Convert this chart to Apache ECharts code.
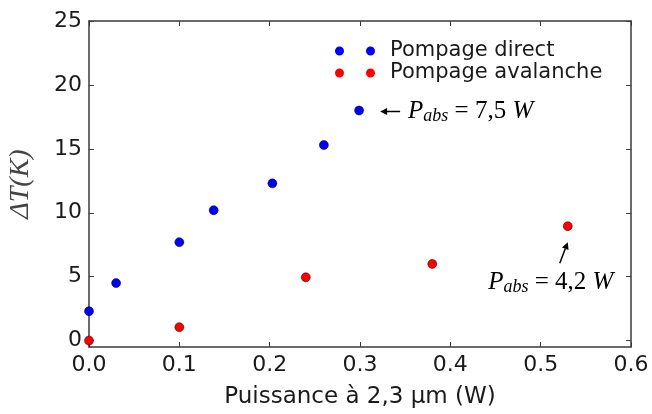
<!DOCTYPE html>
<html><head><meta charset="utf-8">
<script src="https://cdn.jsdelivr.net/npm/echarts@6/dist/echarts.min.js"></script>
<style>html,body{margin:0;padding:0;background:#fff}#c{width:652px;height:414px}</style>
</head><body><div id="c"></div>
<script>
// ---- data ----
const xTicks = [0, 0.1, 0.2, 0.3, 0.4, 0.5, 0.6];
const yTicks = [0, 5, 10, 15, 20, 25];
const seriesNames = ['Pompage direct', 'Pompage avalanche'];
const directX = [0, 0.03, 0.1, 0.138, 0.203, 0.26, 0.299];
const directY = [2.3, 4.5, 7.7, 10.2, 12.3, 15.3, 18.0];
const avalX = [0, 0.1, 0.24, 0.38, 0.53];
const avalY = [0.0, 1.05, 4.95, 6.0, 8.95];
const annotValues = ['7,5', '4,2'];
const xTitle = 'Puissance à 2,3 µm (W)';
const yTitle = 'ΔT(K)';

const frame = '#3a3a3a';
const txt = '#1a1a1a';
const pair = (xs, ys) => xs.map((x, i) => [x, ys[i]]);

const chart = echarts.init(document.getElementById('c'), null, {renderer: 'canvas'});
const axisLine = {show: true, onZero: false, lineStyle: {color: frame, width: 1.5}};
const tick = {show: true, inside: true, length: 5, lineStyle: {color: frame, width: 1}};

const option = {
  backgroundColor: '#fff',
  animation: false,
  grid: {left: 89, right: 21, top: 21, bottom: 67, containLabel: false, outerBoundsMode: 'none'},
  legend: {
    data: seriesNames, orient: 'vertical', left: 330, top: 35,
    itemWidth: 40, itemHeight: 9, itemGap: 0, symbolKeepAspect: false,
    icon: 'path://M0,4.5A4.5,4.5 0 1,1 9,4.5A4.5,4.5 0 1,1 0,4.5Z M31,4.5A4.5,4.5 0 1,1 40,4.5A4.5,4.5 0 1,1 31,4.5Z',
    itemStyle: {borderWidth: 0},
    textStyle: {fontSize: 21, fontFamily: 'DejaVu Sans', color: txt, padding: [0, 0, 0, 10], lineHeight: 22}
  },
  xAxis: [{
    type: 'value', min: 0, max: 0.6, interval: 0.1, position: 'bottom',
    axisLine: axisLine, axisTick: tick, splitLine: {show: false},
    axisLabel: {customValues: xTicks, color: txt, fontSize: 22, fontFamily: 'DejaVu Sans', margin: 7, formatter: v => v.toFixed(1)},
    name: xTitle, nameLocation: 'middle', nameGap: 39,
    nameTextStyle: {fontSize: 23, fontFamily: 'DejaVu Sans', color: txt}
  }, {
    type: 'value', min: 0, max: 0.6, interval: 0.1, position: 'top',
    axisLine: axisLine, axisTick: tick, splitLine: {show: false}, axisLabel: {show: false}
  }],
  yAxis: [{
    type: 'value', min: -0.5, max: 25, position: 'left',
    axisLine: axisLine, axisTick: Object.assign({customValues: yTicks}, tick), splitLine: {show: false},
    axisLabel: {customValues: yTicks, color: txt, fontSize: 22, fontFamily: 'DejaVu Sans', margin: 7},
    name: yTitle, nameLocation: 'middle', nameGap: 54, nameRotate: 90,
    nameTextStyle: {fontSize: 28, fontFamily: 'Liberation Serif', fontStyle: 'italic', color: '#444'}
  }, {
    type: 'value', min: -0.5, max: 25, position: 'right',
    axisLine: axisLine, axisTick: Object.assign({customValues: yTicks}, tick), splitLine: {show: false},
    axisLabel: {show: false}
  }],
  series: [{
    name: seriesNames[0], type: 'scatter', xAxisIndex: 0, yAxisIndex: 0,
    data: pair(directX, directY), symbol: 'circle', symbolSize: 9, clip: false,
    itemStyle: {color: '#0000ff', borderColor: '#000', borderWidth: 0.5, opacity: 1}
  }, {
    name: seriesNames[1], type: 'scatter', xAxisIndex: 0, yAxisIndex: 0,
    data: pair(avalX, avalY), symbol: 'circle', symbolSize: 9, clip: false,
    itemStyle: {color: '#ff0000', borderColor: '#000', borderWidth: 0.5, opacity: 1}
  }]
};
chart.setOption(option);

function mathText(val) {
  return {
    text: '{i|P}{s|abs}{n| = ' + val + ' }{i|W}',
    rich: {
      i: {fontFamily: 'Liberation Serif', fontStyle: 'italic', fontSize: 25, lineHeight: 28, color: '#111'},
      s: {fontFamily: 'Liberation Serif', fontStyle: 'italic', fontSize: 18, lineHeight: 16, verticalAlign: 'bottom', color: '#111'},
      n: {fontFamily: 'Liberation Serif', fontSize: 25, lineHeight: 28, color: '#111'}
    }
  };
}
const pA = chart.convertToPixel({seriesIndex: 0}, [directX[6], directY[6]]);
const pB = chart.convertToPixel({seriesIndex: 1}, [avalX[4], avalY[4]]);
const graphic = [];
// arrow 1 (pointing left)
const ay = pA[1] + 1, ax1 = pA[0] + 41, ax2 = pA[0] + 21;
graphic.push({type: 'line', shape: {x1: ax1, y1: ay, x2: ax2 + 5, y2: ay}, style: {stroke: '#000', lineWidth: 1.5}});
graphic.push({type: 'polygon', shape: {points: [[ax2, ay], [ax2 + 7, ay - 3.5], [ax2 + 7, ay + 3.5]]}, style: {fill: '#000'}});
graphic.push({type: 'text', x: pA[0] + 49, y: pA[1] + 1, style: Object.assign({verticalAlign: 'middle', align: 'left'}, mathText(annotValues[0]))});
// arrow 2 (pointing up)
const hx = pB[0], hy = pB[1] + 16, tx = pB[0] - 8, ty = pB[1] + 37;
const ang = Math.atan2(hy - ty, hx - tx);
const L = 7, W = 3.5;
const bx = hx - L * Math.cos(ang), by = hy - L * Math.sin(ang);
graphic.push({type: 'line', shape: {x1: tx, y1: ty, x2: bx, y2: by}, style: {stroke: '#000', lineWidth: 1.5}});
graphic.push({type: 'polygon', shape: {points: [[hx, hy], [bx + W * Math.sin(ang), by - W * Math.cos(ang)], [bx - W * Math.sin(ang), by + W * Math.cos(ang)]]}, style: {fill: '#000'}});
graphic.push({type: 'text', x: pB[0] - 17, y: pB[1] + 56, style: Object.assign({verticalAlign: 'middle', align: 'center'}, mathText(annotValues[1]))});
chart.setOption({graphic: graphic});
</script>
</body></html>
